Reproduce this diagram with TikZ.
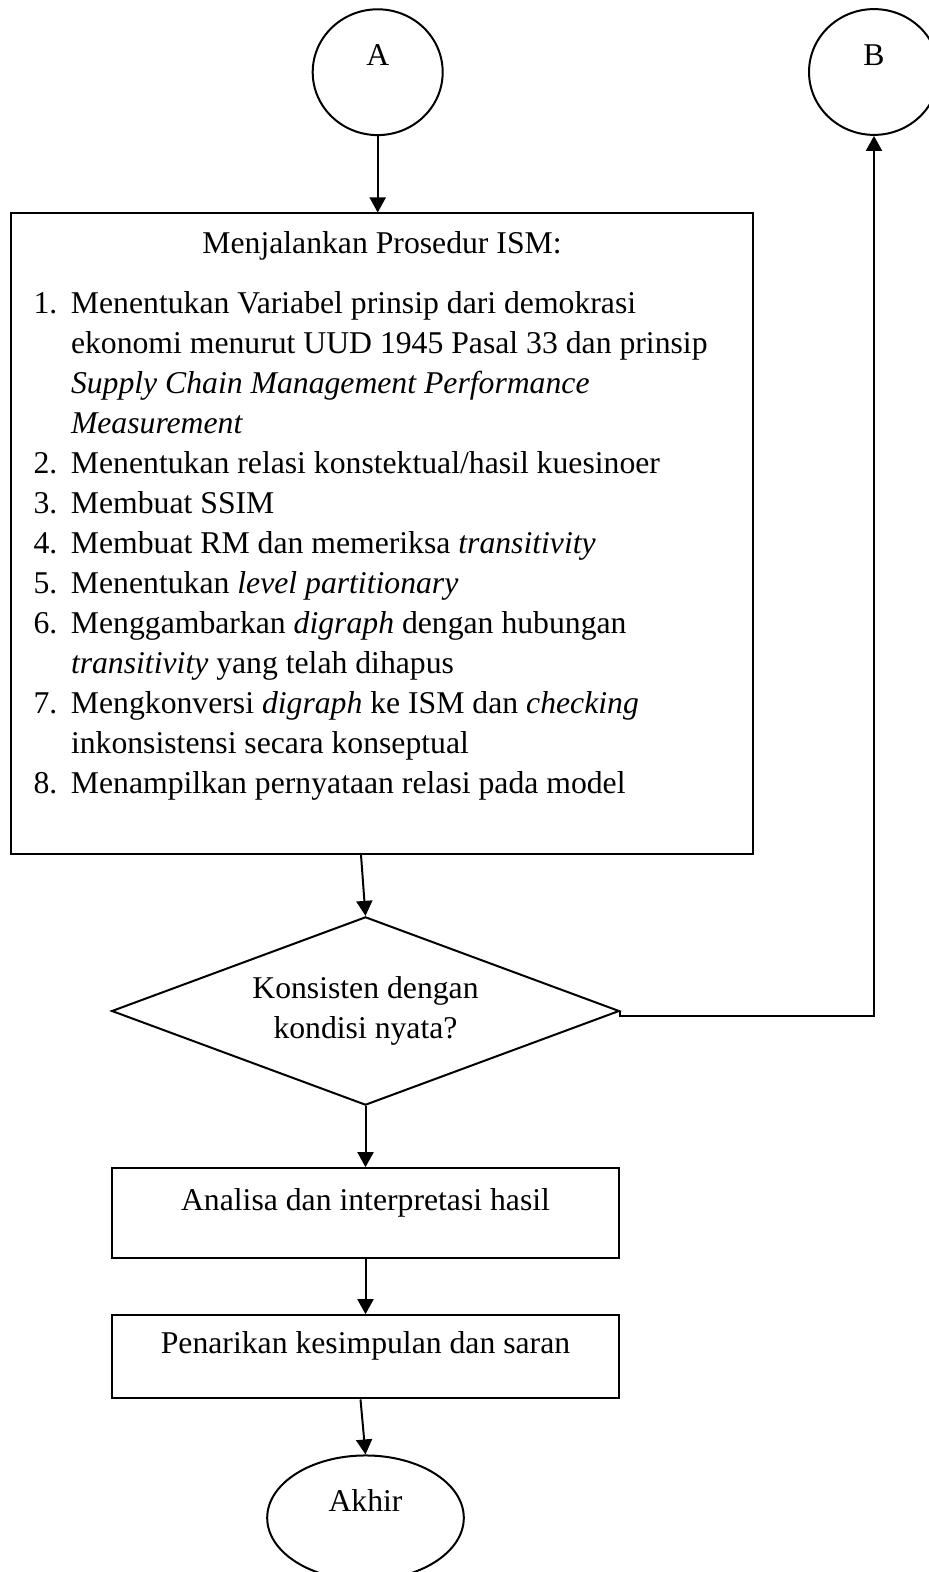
\documentclass[tikz,border=0pt]{standalone}
\usepackage{fontspec}
\setmainfont{Liberation Serif}
\usetikzlibrary{arrows.meta,positioning,shapes.geometric}

\newcommand{\butir}[2]{\par\noindent\hangindent=18.7pt\hangafter=1\makebox[18.7pt][l]{#1}#2\par}

\begin{document}
\begin{tikzpicture}[x=0.5pt,y=-0.5pt,
    every node/.style={font=\fontsize{15.85pt}{20pt}\selectfont},
    panah/.style={line width=1pt,-{Triangle[length=7.5pt,width=8pt]}},
    konektor/.style={draw,ellipse,line width=1pt,inner sep=0pt,text height=11pt,text depth=17.3pt},
    prosesbox/.style={draw,rectangle,line width=1pt,inner sep=0pt,minimum width=253.75pt,text height=11pt,text depth=14pt},
    keputusan/.style={draw,diamond,line width=1pt,inner sep=0pt,align=center,shape aspect=2.7,minimum width=253.85pt,minimum height=94.15pt}]
  \useasboundingbox (0,0) rectangle (929,1572);

            \node (A) [konektor, minimum width=65pt, minimum height=62.9pt] at (377.7,72.2) {A};
            \node (B) [konektor, minimum width=65pt, minimum height=62.9pt] at (874,72) {B};
            \node (ism) [draw, line width=1pt, inner sep=0pt, anchor=north west] at (10,212.5) {\parbox[t][320.25pt][t]{371pt}{\fontsize{15.85pt}{20pt}\selectfont
              \centering\rule{0pt}{20.25pt}Menjalankan Prosedur ISM:\par
              \vspace{10pt}\raggedright\leftskip=11.3pt
              \butir{1.}{Menentukan Variabel prinsip dari demokrasi\newline ekonomi menurut UUD 1945 Pasal 33 dan prinsip\newline \textit{Supply Chain Management Performance}\newline \textit{Measurement}}
              \butir{2.}{Menentukan relasi konstektual/hasil kuesinoer}
              \butir{3.}{Membuat SSIM}
              \butir{4.}{Membuat RM dan memeriksa \textit{transitivity}}
              \butir{5.}{Menentukan \textit{level partitionary}}
              \butir{6.}{Menggambarkan \textit{digraph} dengan hubungan\newline \textit{transitivity} yang telah dihapus}
              \butir{7.}{Mengkonversi \textit{digraph} ke ISM dan \textit{checking}\newline inkonsistensi secara konseptual}
              \butir{8.}{Menampilkan pernyataan relasi pada model}}};
            \node (cek) [keputusan] at (365.5,1011) {Konsisten dengan\\kondisi nyata?};
            \node (analisa) [prosesbox, minimum height=44.85pt, below=30.5pt of cek] {Analisa dan interpretasi hasil};
            \node (simpulan) [prosesbox, minimum height=41.65pt, below=27.65pt of analisa] {Penarikan kesimpulan dan saran};
            \node (akhir) [konektor, minimum width=98.3pt, minimum height=62.4pt, below=27.5pt of simpulan] {Akhir};

            \draw[panah] (A) -- (A |- ism.north);
            \draw[panah] ([xshift=-10.5pt]ism.south) -- (cek.north);
            \draw[panah] (cek) -- (analisa);
            \draw[panah] (analisa) -- (simpulan);
            \draw[panah] ([xshift=-2.5pt]simpulan.south) -- (akhir.north);
            \draw[panah] (cek.east) -- ++(0,-2.6pt) -| (B.south);

        \end{tikzpicture}
\end{document}
